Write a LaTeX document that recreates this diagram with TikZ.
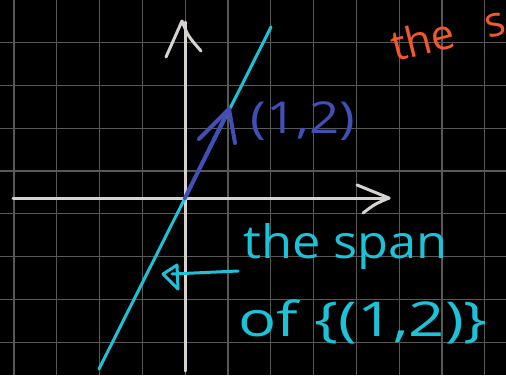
\documentclass[tikz,border=0pt]{standalone}
\usepackage{fontspec}
\setsansfont{Open Sans}
\begin{document}
\begin{tikzpicture}[x=1pt,y=-1pt,
  gridline/.style={draw=gridgray,line width=1.3pt},
  axisline/.style={draw=axisgray,line width=3pt,line cap=round,line join=round},
  spanline/.style={draw=spancyan,line width=3pt,line cap=round,line join=round},
  vecline/.style={draw=vecblue,line width=4pt,line cap=round,line join=round},
  hand/.style={inner sep=0pt}]
\definecolor{gridgray}{HTML}{585858}
\definecolor{axisgray}{HTML}{D6D3CE}
\definecolor{spancyan}{HTML}{1BC3D9}
\definecolor{vecblue}{HTML}{4150B4}
\definecolor{orangered}{HTML}{F2582A}
\useasboundingbox (0,0) rectangle (506,375);
\fill[black] (0,0) rectangle (506,375);
% grid
\foreach \i in {0,...,11} \draw[gridline] ({14+42.8*\i},0) -- ({14+42.8*\i},375);
\foreach \j in {0,...,8} \draw[gridline] (0,{42.8*\j-0.2}) -- (506,{42.8*\j-0.2});
% axes
\coordinate (O) at (185,198);
\coordinate (xstart) at (13,198);
\coordinate (xend) at (389,198);
\coordinate (ystart) at (185,371);
\coordinate (yend) at (185,22);
\draw[axisline] (xstart) -- (xend);
\draw[axisline] (357,185) -- (xend) .. controls (375,204) .. (363,213);
\draw[axisline] (ystart) -- (yend);
\draw[axisline] (166,57) -- (182,21) .. controls (188,36) .. (201,51);
% span line
\coordinate (spanlow) at (99,369);
\coordinate (spanhigh) at (271,27);
\draw[spanline] (spanlow) -- (spanhigh);
% vector (1,2)
\coordinate (V) at (229,109);
\draw[vecline] (O) -- (V);
\draw[vecline] (199,139) -- (V) -- (235,143);
% labels
\node[hand,text=vecblue,font=\sffamily\fontsize{44}{50}\selectfont,xscale=1.2] (vlabel) at (303,121) {(1,2)};
\node[hand,text=orangered,font=\sffamily\fontsize{42}{48}\selectfont,rotate=14,anchor=base west] (orange) at (395,62) {the\hspace{0.75em}s};
\node[hand,text=spancyan,font=\sffamily\fontsize{46}{52}\selectfont,xscale=1.1,anchor=base west] (span1) at (243,258) {the span};
\node[hand,text=spancyan,font=\sffamily\fontsize{48}{54}\selectfont,xscale=1.32,anchor=base west] (span2) at (238,336) {of \{(1,2)\}};
% pointer arrow
\coordinate (ptrstart) at (238,271);
\coordinate (ptrend) at (172,274);
\draw[spanline] (ptrstart) -- (ptrend);
\draw[spanline] (163,274) -- (177,265) -- (178,289) -- cycle;
\end{tikzpicture}
\end{document}
